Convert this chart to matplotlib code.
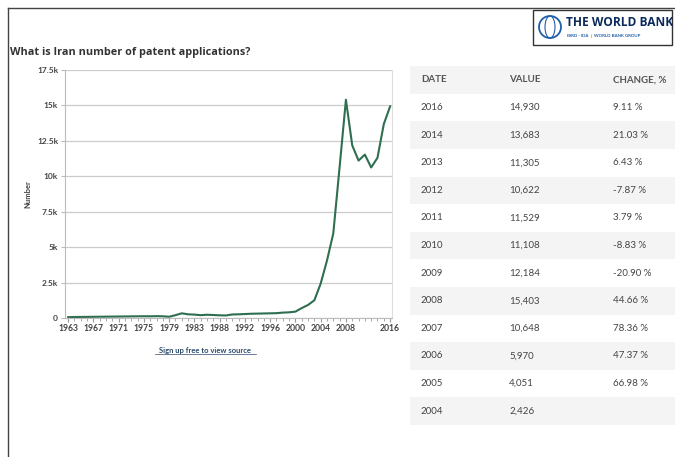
import matplotlib
matplotlib.use('Agg')
import matplotlib.pyplot as plt
from matplotlib.patches import Rectangle, Ellipse
from matplotlib.lines import Line2D

plt.rcParams['font.family'] = ['Lato', 'DejaVu Sans']

# Chart data (categorical years, 1984 and 2015 missing in source)
years = [str(y) for y in range(1963, 1984)] + [str(y) for y in range(1985, 2015)] + ['2016']
values = [60, 70, 75, 80, 85, 90, 95, 100, 105, 110, 115, 120, 125, 120, 130, 120, 90, 200, 330, 260, 240,
          200, 230, 210, 190, 180, 250, 260, 280, 300, 310, 320, 330, 340, 380, 400, 450, 700, 920, 1250,
          2426, 4051, 5970, 10648, 15403, 12184, 11108, 11529, 10622, 11305, 13683, 14930]
label_years = ['1963', '1967', '1971', '1975', '1979', '1983', '1988', '1992', '1996', '2000', '2004', '2008', '2016']
y_ticks = [0, 2500, 5000, 7500, 10000, 12500, 15000, 17500]
y_ticklabels = ['0', '2.5k', '5k', '7.5k', '10k', '12.5k', '15k', '17.5k']

# Table data
table_dates = ['2016', '2014', '2013', '2012', '2011', '2010', '2009', '2008', '2007', '2006', '2005', '2004']
table_values = ['14,930', '13,683', '11,305', '10,622', '11,529', '11,108', '12,184', '15,403', '10,648', '5,970', '4,051', '2,426']
table_changes = ['9.11 %', '21.03 %', '6.43 %', '-7.87 %', '3.79 %', '-8.83 %', '-20.90 %', '44.66 %', '78.36 %', '47.37 %', '66.98 %', '']

W, H = 675, 457
fig = plt.figure(figsize=(W / 100, H / 100), dpi=100)


def fx(px):
    return px / W


def fy(py):
    return 1 - py / H


# frame lines
fig.add_artist(Line2D([fx(8), fx(8)], [fy(8), 0], color='#444444', lw=1))
fig.add_artist(Line2D([fx(8), 1], [fy(8), fy(8)], color='#444444', lw=1))

# logo
fig.add_artist(Rectangle((fx(533), fy(45)), fx(672) - fx(533), fy(10) - fy(45), fill=False,
                         edgecolor='#333333', lw=1))
fig.add_artist(Ellipse((fx(550), fy(27)), fx(22), 22 / H, fill=False, edgecolor='#1f5fa8', lw=1.3))
fig.add_artist(Ellipse((fx(550), fy(27)), fx(10), 22 / H, fill=False, edgecolor='#1f5fa8', lw=0.8))
fig.text(fx(566), fy(23), 'THE WORLD BANK', fontsize=8.6, fontweight='bold', color='#0b2a5b',
         va='center', ha='left', family=['Open Sans', 'DejaVu Sans'])
fig.text(fx(567), fy(36), 'IBRD · IDA  |  WORLD BANK GROUP', fontsize=3.2, color='#1f5fa8',
         va='center', ha='left', fontweight='bold')

# title
fig.text(fx(10), fy(52), 'What is Iran number of patent applications?', fontsize=7.8, fontweight='bold',
         color='#333333', va='center', ha='left', family=['Open Sans', 'DejaVu Sans'])

# chart
ax = fig.add_axes([fx(65), fy(318), fx(392) - fx(65), fy(70) - fy(318)])
x = list(range(len(years)))
ax.plot(x, values, color='#2f6f50', lw=1.5)
ax.set_xlim(-0.5, 51.3)
ax.set_ylim(0, 17500)
ax.set_yticks(y_ticks)
ax.set_yticklabels(y_ticklabels)
ax.set_xticks([years.index(y) for y in label_years])
ax.set_xticklabels(label_years)
ax.set_xticks(x, minor=True)
ax.grid(axis='y', color='#cccccc', lw=0.9)
ax.set_axisbelow(True)
ax.spines['top'].set_visible(False)
ax.spines['left'].set_color('#bbbbbb')
ax.spines['right'].set_color('#dddddd')
ax.spines['bottom'].set_color('#bbbbbb')
ax.tick_params(axis='y', length=3, color='#bbbbbb', labelsize=6, labelcolor='#444444', pad=2)
ax.tick_params(axis='x', which='major', length=3, color='#999999', labelsize=6.2, labelcolor='#444444', pad=1)
ax.tick_params(axis='x', which='minor', length=2, color='#999999')
for lab in ax.get_xticklabels() + ax.get_yticklabels():
    lab.set_fontweight('bold')
ax.set_ylabel('Number', fontsize=5.5, color='#444444', labelpad=4, fontweight='bold')

fig.text(fx(205), fy(350), 'Sign up free to view source', fontsize=5.5, color='#2d4a6b', ha='center',
         va='center', fontweight='bold')
fig.add_artist(Line2D([fx(155), fx(256)], [fy(354), fy(354)], color='#2d4a6b', lw=0.5))

# table
row_h = 27.6
top_c = 80
rows = [('DATE', 'VALUE', 'CHANGE, %')] + list(zip(table_dates, table_values, table_changes))
col_x = [421, 509, 613]
for i, row in enumerate(rows):
    cy = top_c + i * row_h
    if i % 2 == 0:
        fig.add_artist(Rectangle((fx(410), fy(cy + row_h / 2)), fx(675) - fx(410), row_h / H,
                                 facecolor='#f4f4f4', edgecolor='none', zorder=0))
    for cx, t in zip(col_x, row):
        fig.text(fx(cx), fy(cy), t, fontsize=7, color='#555555' if i == 0 else '#444444',
                 ha='left', va='center', fontweight='bold' if i == 0 else 'normal')

fig.savefig('out.png', dpi=100)
